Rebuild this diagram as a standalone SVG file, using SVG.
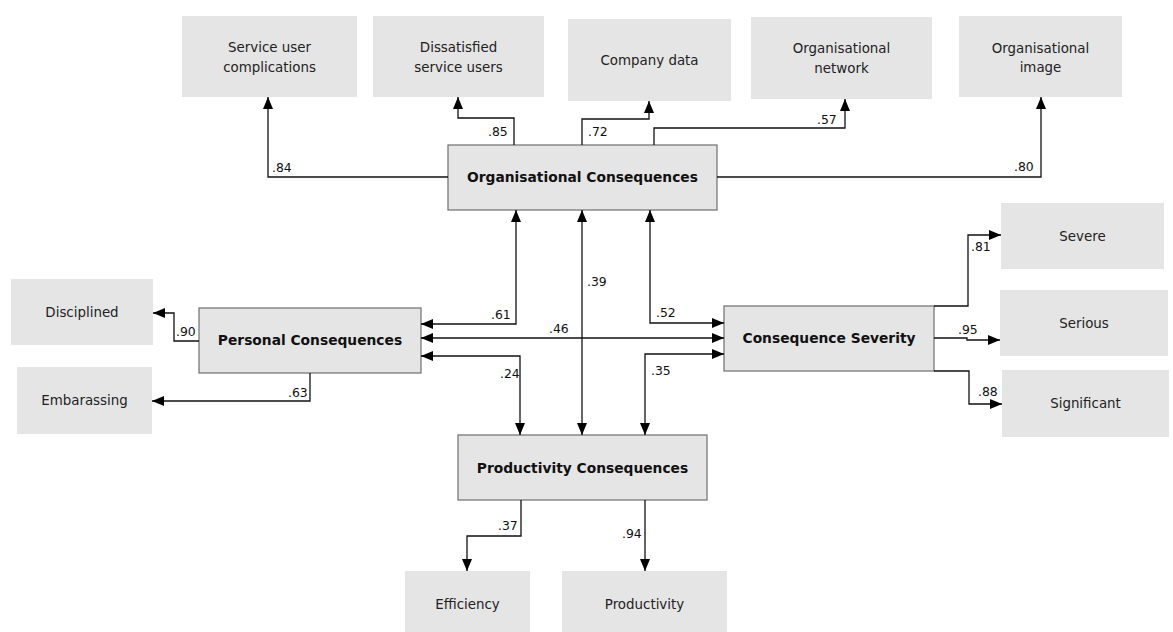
<svg xmlns="http://www.w3.org/2000/svg" width="1173" height="632" viewBox="0 0 1173 632">
  <style>
    .ind { fill: #e5e5e5; stroke: none; }
    .lat { fill: #e5e5e5; stroke: #6e6e6e; stroke-width: 1.2; }
    .t { font-family: "DejaVu Sans", Verdana, sans-serif; font-size: 13.4px; fill: #222; text-anchor: middle; }
    .b { font-family: "DejaVu Sans", Verdana, sans-serif; font-size: 13.8px; font-weight: bold; fill: #111; text-anchor: middle; }
    .n { font-family: "DejaVu Sans", Verdana, sans-serif; font-size: 12.4px; fill: #111; }
    .c { fill: none; stroke: #111; stroke-width: 1.3; marker-end: url(#ah); }
    .c2 { marker-start: url(#ah); }
  </style>
  <defs>
    <marker id="ah" viewBox="0 0 12 10" refX="12" refY="5" markerWidth="12" markerHeight="10" markerUnits="userSpaceOnUse" orient="auto-start-reverse">
      <path d="M0,0 L12,5 L0,10 Z" fill="#000"/>
    </marker>
  </defs>
  <rect width="1173" height="632" fill="#fff"/>

  <!-- indicator boxes -->
  <g id="service-user-complications">
    <rect class="ind" x="182" y="16" width="175" height="81"/>
    <text class="t" x="269.5" y="52">Service user</text>
    <text class="t" x="269.5" y="72">complications</text>
  </g>
  <g id="dissatisfied-service-users">
    <rect class="ind" x="373" y="16" width="171" height="81"/>
    <text class="t" x="458.5" y="52">Dissatisfied</text>
    <text class="t" x="458.5" y="72">service users</text>
  </g>
  <g id="company-data">
    <rect class="ind" x="568" y="19" width="163" height="82"/>
    <text class="t" x="649.5" y="65">Company data</text>
  </g>
  <g id="organisational-network">
    <rect class="ind" x="751" y="17" width="181" height="82"/>
    <text class="t" x="841.5" y="53">Organisational</text>
    <text class="t" x="841.5" y="73">network</text>
  </g>
  <g id="organisational-image">
    <rect class="ind" x="959" y="16" width="163" height="81"/>
    <text class="t" x="1040.5" y="53">Organisational</text>
    <text class="t" x="1040.5" y="72">image</text>
  </g>
  <g id="disciplined">
    <rect class="ind" x="11" y="279" width="142" height="66"/>
    <text class="t" x="82" y="317">Disciplined</text>
  </g>
  <g id="embarassing">
    <rect class="ind" x="17" y="367" width="135" height="67"/>
    <text class="t" x="84.5" y="405">Embarassing</text>
  </g>
  <g id="severe">
    <rect class="ind" x="1001" y="203" width="163" height="66"/>
    <text class="t" x="1082.5" y="241">Severe</text>
  </g>
  <g id="serious">
    <rect class="ind" x="1000" y="290" width="168" height="66"/>
    <text class="t" x="1084" y="328">Serious</text>
  </g>
  <g id="significant">
    <rect class="ind" x="1002" y="370" width="167" height="67"/>
    <text class="t" x="1085.5" y="408">Significant</text>
  </g>
  <g id="efficiency">
    <rect class="ind" x="405" y="571" width="125" height="61"/>
    <text class="t" x="467.5" y="609">Efficiency</text>
  </g>
  <g id="productivity">
    <rect class="ind" x="562" y="571" width="165" height="61"/>
    <text class="t" x="644.5" y="609">Productivity</text>
  </g>

  <!-- latent constructs -->
  <g id="organisational-consequences">
    <rect class="lat" x="448" y="145" width="269" height="65"/>
    <text class="b" x="582.5" y="182">Organisational Consequences</text>
  </g>
  <g id="personal-consequences">
    <rect class="lat" x="199" y="308" width="222" height="65"/>
    <text class="b" x="310" y="345">Personal Consequences</text>
  </g>
  <g id="consequence-severity">
    <rect class="lat" x="724" y="306" width="210" height="65"/>
    <text class="b" x="829" y="343">Consequence Severity</text>
  </g>
  <g id="productivity-consequences">
    <rect class="lat" x="458" y="435" width="249" height="65"/>
    <text class="b" x="582.5" y="473">Productivity Consequences</text>
  </g>

  <!-- connectors and loadings -->
  <g id="connectors">
    <path class="c" d="M448,177 H268 V97"/>
    <path class="c" d="M514,145 V118 H458 V97"/>
    <path class="c" d="M582,145 V119 H649 V101"/>
    <path class="c" d="M654,145 V128 H845 V99"/>
    <path class="c" d="M717,177 H1041 V97"/>

    <path class="c c2" d="M516,210 V324 H421"/>
    <path class="c c2" d="M582,210 V435"/>
    <path class="c c2" d="M650,210 V323 H724"/>
    <path class="c c2" d="M421,338 H724"/>
    <path class="c c2" d="M421,356 H520 V435"/>
    <path class="c c2" d="M724,354 H645 V435"/>

    <path class="c" d="M199,341 H174 V313 H153"/>
    <path class="c" d="M310,373 V401 H152"/>

    <path class="c" d="M934,306 H968 V235 H1001"/>
    <path class="c" d="M934,338 H967 V340 H1000"/>
    <path class="c" d="M934,371 H969 V404 H1002"/>

    <path class="c" d="M521,500 V536 H467 V571"/>
    <path class="c" d="M645,500 V571"/>

    <text class="n" x="272" y="172">.84</text>
    <text class="n" x="488" y="136">.85</text>
    <text class="n" x="588" y="136">.72</text>
    <text class="n" x="817" y="124">.57</text>
    <text class="n" x="1014" y="171">.80</text>
    <text class="n" x="491" y="319">.61</text>
    <text class="n" x="587" y="286">.39</text>
    <text class="n" x="656" y="317">.52</text>
    <text class="n" x="549" y="333">.46</text>
    <text class="n" x="500" y="378">.24</text>
    <text class="n" x="651" y="375">.35</text>
    <text class="n" x="176" y="336">.90</text>
    <text class="n" x="288" y="397">.63</text>
    <text class="n" x="971" y="251">.81</text>
    <text class="n" x="958" y="334">.95</text>
    <text class="n" x="978" y="396">.88</text>
    <text class="n" x="498" y="530">.37</text>
    <text class="n" x="622" y="538">.94</text>
  </g>
</svg>
